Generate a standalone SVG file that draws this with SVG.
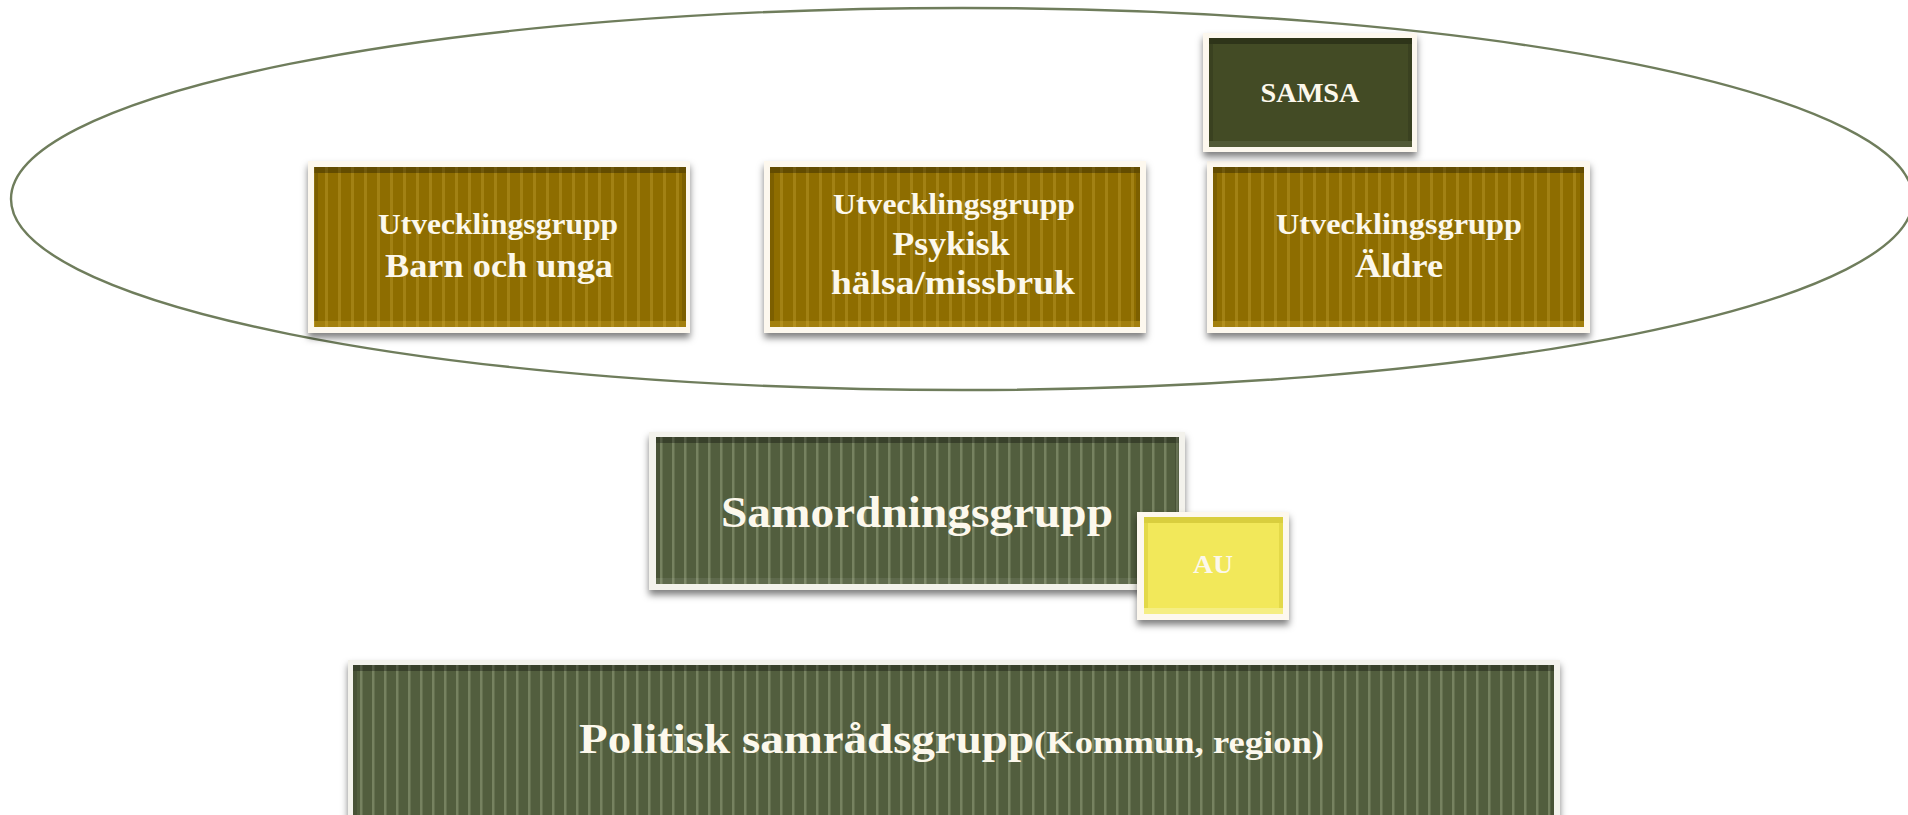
<svg xmlns="http://www.w3.org/2000/svg" width="1908" height="815" viewBox="0 0 1908 815">
<defs>
<style>
.frame{fill:#fdf8ee;filter:url(#sh)}
.frame2{fill:#f3f2ec;filter:url(#sh)}
.brown{fill:#8e6d00}
.olive{fill:#525e3e}
.dark{fill:#434b25}
.yellow{fill:#f2e85a}
.sb{fill:url(#stripeB)}
.so{fill:url(#stripeO)}
.topd{fill:#000;opacity:0.3}
.botl{fill:#ffd24a;opacity:0.18}
.bolo{fill:#fff;opacity:0.08}
.side{fill:#000;opacity:0.12}
.t{font-family:"Liberation Serif","Times New Roman",serif;font-weight:bold;fill:#fcf8ec;text-anchor:middle}
.ts{font-family:"Liberation Serif","Times New Roman",serif;font-weight:bold;fill:#fcf8ec}
</style>
<filter id="sh" x="-5%" y="-10%" width="110%" height="130%">
<feDropShadow dx="0" dy="5" stdDeviation="3.5" flood-color="#000" flood-opacity="0.5"/>
</filter>
<pattern id="stripeB" width="13" height="10" patternUnits="userSpaceOnUse">
<rect x="0" y="0" width="3" height="10" fill="#c9a73a" opacity="0.35"/>
</pattern>
<pattern id="stripeO" width="12" height="10" patternUnits="userSpaceOnUse">
<rect x="0" y="0" width="2.5" height="10" fill="#a3ad8a" opacity="0.45"/>
</pattern>
</defs>
<rect width="1908" height="815" fill="#ffffff"/>
<g id="connectors">
<ellipse cx="962" cy="199" rx="951" ry="191" fill="none" stroke="#6f7d5c" stroke-width="2.4"/>
</g>
<g id="barn">
<rect class="frame" x="308" y="161" width="382" height="172"/>
<rect class="brown" x="314" y="167" width="372" height="160"/>
<rect class="sb" x="314" y="167" width="372" height="160"/>
<rect class="topd" x="314" y="167" width="372" height="6"/>
<rect class="botl" x="314" y="321" width="372" height="6"/>
<rect class="side" x="314" y="173" width="4" height="148"/>
<rect class="side" x="682" y="173" width="4" height="148"/>
<text class="t" x="498" y="234" font-size="29" textLength="240" lengthAdjust="spacingAndGlyphs">Utvecklingsgrupp</text>
<text class="t" x="499" y="277" font-size="34" textLength="228" lengthAdjust="spacingAndGlyphs">Barn och unga</text>
</g>
<g id="psykisk">
<rect class="frame" x="764" y="161" width="382" height="172"/>
<rect class="brown" x="770" y="167" width="370" height="160"/>
<rect class="sb" x="770" y="167" width="370" height="160"/>
<rect class="topd" x="770" y="167" width="370" height="6"/>
<rect class="botl" x="770" y="321" width="370" height="6"/>
<rect class="side" x="770" y="173" width="4" height="148"/>
<rect class="side" x="1136" y="173" width="4" height="148"/>
<text class="t" x="954" y="214" font-size="29" textLength="242" lengthAdjust="spacingAndGlyphs">Utvecklingsgrupp</text>
<text class="t" x="951" y="255" font-size="34" textLength="117" lengthAdjust="spacingAndGlyphs">Psykisk</text>
<text class="t" x="953" y="294" font-size="34" textLength="244" lengthAdjust="spacingAndGlyphs">hälsa/missbruk</text>
</g>
<g id="aldre">
<rect class="frame" x="1207" y="161" width="383" height="172"/>
<rect class="brown" x="1213" y="167" width="371" height="160"/>
<rect class="sb" x="1213" y="167" width="371" height="160"/>
<rect class="topd" x="1213" y="167" width="371" height="6"/>
<rect class="botl" x="1213" y="321" width="371" height="6"/>
<rect class="side" x="1213" y="173" width="4" height="148"/>
<rect class="side" x="1580" y="173" width="4" height="148"/>
<text class="t" x="1399" y="234" font-size="29" textLength="246" lengthAdjust="spacingAndGlyphs">Utvecklingsgrupp</text>
<text class="t" x="1399" y="277" font-size="34" textLength="88" lengthAdjust="spacingAndGlyphs">Äldre</text>
</g>
<g id="samsa">
<rect class="frame" x="1203" y="33" width="214" height="119"/>
<rect class="dark" x="1209" y="38" width="203" height="109"/>
<rect class="topd" x="1209" y="38" width="203" height="6"/>
<rect class="bolo" x="1209" y="141" width="203" height="6"/>
<rect class="side" x="1209" y="44" width="4" height="97"/>
<rect class="side" x="1408" y="44" width="4" height="97"/>
<text class="t" x="1310" y="102" font-size="27" textLength="99" lengthAdjust="spacingAndGlyphs">SAMSA</text>
</g>
<g id="samordning">
<rect class="frame2" x="649" y="432" width="536" height="158"/>
<rect class="olive" x="656" y="437" width="523" height="147"/>
<rect class="so" x="656" y="437" width="523" height="147"/>
<rect class="topd" x="656" y="437" width="523" height="6"/>
<rect class="bolo" x="656" y="578" width="523" height="6"/>
<rect class="side" x="656" y="443" width="4" height="135"/>
<rect class="side" x="1175" y="443" width="4" height="135"/>
<text class="t" x="917" y="527" font-size="44" textLength="392" lengthAdjust="spacingAndGlyphs">Samordningsgrupp</text>
</g>
<g id="au">
<rect class="frame" x="1137" y="512" width="152" height="108"/>
<rect class="yellow" x="1144" y="517" width="139" height="97"/>
<rect fill="#c8bd2c" opacity="0.6" x="1144" y="517" width="139" height="6"/>
<rect fill="#fff" opacity="0.25" x="1144" y="608" width="139" height="6"/>
<rect fill="#c8bd2c" opacity="0.35" x="1144" y="523" width="4" height="85"/>
<rect fill="#c8bd2c" opacity="0.35" x="1279" y="523" width="4" height="85"/>
<text class="t" x="1213" y="573" font-size="25" textLength="40" lengthAdjust="spacingAndGlyphs">AU</text>
</g>
<g id="politisk">
<rect class="frame2" x="348" y="660" width="1212" height="170"/>
<rect class="olive" x="353" y="665" width="1201" height="160"/>
<rect class="so" x="353" y="665" width="1201" height="160"/>
<rect class="topd" x="353" y="665" width="1201" height="6"/>
<rect class="side" x="353" y="671" width="4" height="150"/>
<rect class="side" x="1550" y="671" width="4" height="150"/>
<text class="ts" x="579" y="753" font-size="42" textLength="455" lengthAdjust="spacingAndGlyphs">Politisk samrådsgrupp</text>
<text class="ts" x="1034" y="753" font-size="31" textLength="290" lengthAdjust="spacingAndGlyphs">(Kommun, region)</text>
</g>
</svg>
